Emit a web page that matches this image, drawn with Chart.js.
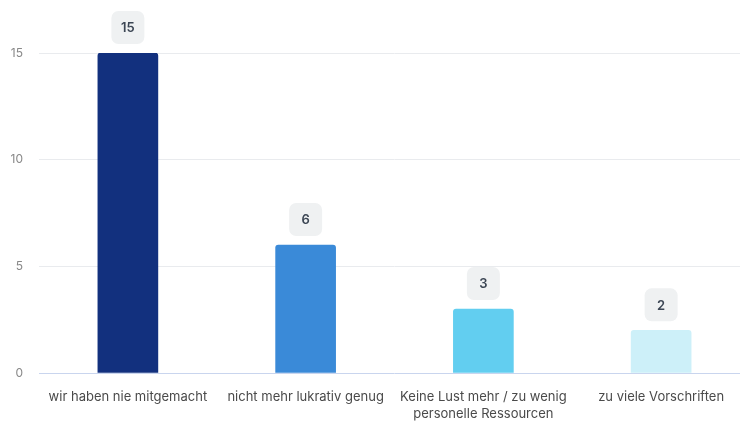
<!DOCTYPE html>
<html>
<head>
<meta charset="utf-8">
<script src="https://cdn.jsdelivr.net/npm/chart.js@4/dist/chart.umd.min.js"></script>
<style>
  html, body { margin: 0; padding: 0; background: #fff; overflow: hidden; }
  #wrap { position: relative; width: 750px; height: 423px; }
</style>
</head>
<body>
<div id="wrap"><canvas id="chart"></canvas></div>
<script>
const categories = [
  'wir haben nie mitgemacht',
  'nicht mehr lukrativ genug',
  ['Keine Lust mehr / zu wenig', 'personelle Ressourcen'],
  'zu viele Vorschriften'
];
const counts = [15, 6, 3, 2];
const barColors = ['#12307e', '#3a8ad8', '#62cef0', '#cdf0f9'];
const yTicks = [0, 5, 10, 15];

// grey rounded badge with the value above each bar
const valueBadges = {
  id: 'valueBadges',
  afterDatasetsDraw(chart) {
    const ctx = chart.ctx;
    const meta = chart.getDatasetMeta(0);
    ctx.save();
    ctx.font = '600 13px Inter, "Noto Sans", sans-serif';
    ctx.textAlign = 'center';
    ctx.textBaseline = 'middle';
    meta.data.forEach((bar, i) => {
      const txt = String(chart.data.datasets[0].data[i]);
      const w = Math.max(33, ctx.measureText(txt).width + 18);
      const h = 33;
      const x = bar.x - w / 2;
      const y = bar.y - 9 - h;
      ctx.fillStyle = '#eff1f2';
      ctx.beginPath();
      ctx.roundRect(x, y, w, h, 7);
      ctx.fill();
      ctx.fillStyle = '#3c4654';
      ctx.fillText(txt, bar.x, y + h / 2 + 1);
    });
    ctx.restore();
  }
};

new Chart(document.getElementById('chart'), {
  type: 'bar',
  data: {
    labels: categories,
    datasets: [{
      data: counts,
      backgroundColor: barColors,
      borderRadius: { topLeft: 3, topRight: 3 },
      borderSkipped: 'bottom',
      barThickness: 60
    }]
  },
  options: {
    responsive: true,
    maintainAspectRatio: false,
    animation: false,
    layout: { padding: { top: 53, right: 0, left: 0, bottom: 0 } },
    plugins: { legend: { display: false }, tooltip: { enabled: false } },
    scales: {
      x: {
        grid: { display: false, drawTicks: false },
        border: { display: false },
        ticks: {
          color: '#4a4a4a',
          padding: 16,
          maxRotation: 0,
          autoSkip: false,
          font: { family: 'Inter, "Noto Sans", sans-serif', size: 13, lineHeight: 1.3 }
        },
        afterFit: (s) => { s.height = 50; }
      },
      y: {
        min: 0,
        max: 15,
        afterBuildTicks: (s) => { s.ticks = yTicks.map((v) => ({ value: v })); },
        grid: {
          drawTicks: false,
          color: (c) => (c.tick && c.tick.value === 0 ? '#c9d5ee' : '#e9ebee'),
          lineWidth: 1
        },
        border: { display: false },
        ticks: {
          color: '#888',
          padding: 16,
          font: { family: 'Inter, "Noto Sans", sans-serif', size: 12 }
        },
        afterFit: (s) => { s.width = 39; }
      }
    }
  },
  plugins: [valueBadges]
});
</script>
</body>
</html>
